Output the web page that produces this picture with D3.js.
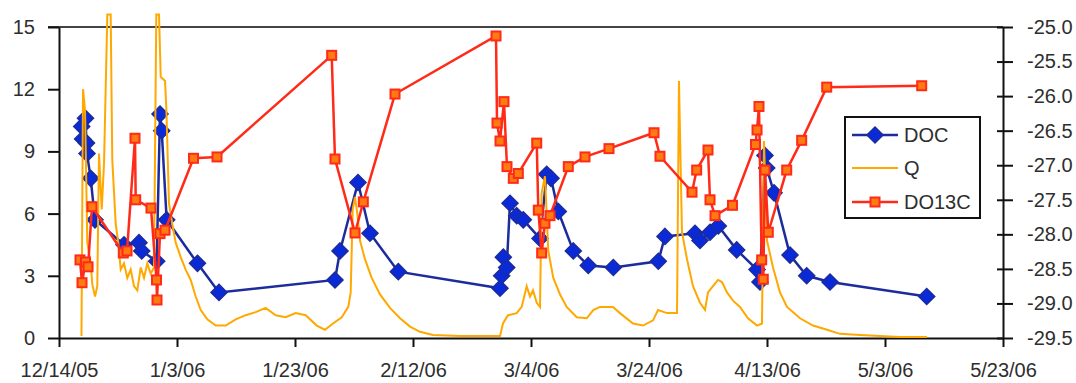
<!DOCTYPE html>
<html>
<head>
<meta charset="utf-8">
<script src="https://cdn.jsdelivr.net/npm/d3@7"></script>
<style>
  body { margin: 0; background: #fff; }
  svg text { font-family: "Liberation Sans", Arial, sans-serif; }
</style>
</head>
<body>
<div id="chart"></div>
<script>
// days elapsed since 12/14/05 00:00
var docDay = [3.85, 4.0, 4.49, 4.66, 4.75, 5.37, 6.10, 11.02, 13.56, 14.02, 16.56, 17.12, 17.41, 18.25, 23.47, 27.12,
  46.78, 47.63, 50.68, 52.71, 57.51, 74.75, 75.03, 75.31, 75.88, 76.44, 77.58, 78.69, 81.53, 82.66, 83.39, 84.63,
  87.17, 89.71, 93.95, 101.58, 102.71, 107.8, 108.64, 110.34, 111.75, 114.86, 118.31, 118.81, 119.66, 119.95,
  121.19, 123.9, 126.73, 130.68, 147.07];
var docValue = [10.2, 9.6, 10.6, 9.4, 8.9, 7.7, 5.7, 4.5, 4.6, 4.2, 3.7, 10.8, 10.0, 5.7, 3.6, 2.2,
  2.8, 4.2, 7.5, 5.05, 3.2, 2.4, 3.0, 3.9, 3.4, 6.5, 5.9, 5.7, 4.8, 7.9, 7.7, 6.1,
  4.2, 3.5, 3.4, 3.7, 4.9, 5.05, 4.7, 5.1, 5.4, 4.25, 3.3, 2.7, 8.8, 8.2,
  7.0, 4.0, 3.0, 2.7, 2.0];

var qDay = [3.81, 4.07, 4.41, 4.80, 5.37, 5.64, 6.10, 6.49, 6.78, 7.24,
  7.63, 8.19, 8.76, 9.03, 9.61, 10.05, 10.46, 11.02, 11.58, 12.15,
  12.71, 13.27, 13.85, 14.41, 14.97, 15.54, 16.10, 16.49, 16.95, 17.24,
  17.97, 18.19, 18.64, 19.20, 19.78, 20.63, 21.47, 22.32, 23.17, 24.02,
  25.14, 26.56, 28.25, 29.95, 31.64, 33.34, 35.03, 36.73, 38.42, 40.12,
  41.81, 43.68, 45.08, 46.44, 47.92, 49.03, 49.44, 49.78, 50.17, 50.56,
  51.02, 51.86, 53.0, 54.41, 56.10, 57.80, 59.49, 61.19, 63.39, 67.97,
  74.75, 75.25, 76.10, 77.58, 78.42, 79.27, 79.83, 80.34, 80.97, 81.53,
  81.81, 82.37, 82.93, 83.78, 84.92, 86.05, 87.75, 89.44, 90.56, 91.69,
  93.90, 95.08, 97.29, 98.98, 100.68, 101.53, 103.05, 104.75, 105.08, 105.59,
  106.44, 107.46, 108.64, 109.49, 110.0, 110.85, 111.69, 112.37, 113.22, 114.24,
  115.42, 116.78, 118.31, 119.15, 119.49, 120.0, 121.02, 122.20, 123.39, 125.59,
  127.80, 130.17, 132.37, 135.76, 142.54, 147.12];
var qValue = [0.1, 12.0, 11.0, 4.6, 3.6, 2.6, 2.0, 2.5, 8.9, 6.2,
  8.4, 15.6, 15.6, 8.6, 5.5, 4.6, 3.3, 3.6, 2.9, 3.3,
  2.5, 2.3, 3.4, 2.9, 3.6, 3.1, 3.4, 15.6, 15.6, 12.6,
  12.4, 11.1, 6.5, 5.5, 4.6, 3.9, 3.3, 2.8, 2.0, 1.35,
  0.9, 0.6, 0.6, 0.9, 1.1, 1.25, 1.45, 1.1, 1.0, 1.2,
  1.1, 0.6, 0.4, 0.7, 1.0, 1.5, 2.2, 6.2, 6.8, 6.0,
  4.7, 3.8, 2.9, 2.1, 1.45, 0.95, 0.55, 0.3, 0.15, 0.1,
  0.1, 0.7, 1.1, 1.2, 1.5, 2.5, 2.0, 2.3, 1.7, 1.5,
  7.0, 7.8, 4.2, 2.9, 2.1, 1.5, 1.0, 0.95, 1.35, 1.5,
  1.5, 1.2, 0.7, 0.6, 0.85, 1.35, 1.2, 1.2, 12.4, 5.1,
  3.8, 2.5, 1.7, 1.35, 2.2, 2.5, 2.8, 2.7, 2.2, 1.8,
  1.5, 0.95, 0.6, 0.7, 9.5, 4.7, 3.4, 2.2, 1.5, 0.95,
  0.6, 0.4, 0.2, 0.15, 0.05, 0.05];

var d13Day = [3.56, 3.90, 4.49, 4.92, 5.59, 10.90, 11.53, 12.88, 13.0, 15.59, 16.53, 16.61, 17.12, 17.97, 22.80, 26.78,
  46.22, 46.78, 50.17, 51.58, 56.95, 74.07, 74.24, 74.75, 75.42, 75.93, 77.0, 77.85, 80.97, 81.24, 81.81, 82.37,
  83.22, 86.32, 89.15, 93.22, 100.85, 101.86, 107.29, 108.08, 110.0, 110.34, 111.19, 114.15, 118.05, 118.31,
  118.64, 119.10, 119.37, 119.66, 120.22, 123.34, 125.88, 130.12, 146.22];
var d13Value = [-28.37, -28.70, -28.40, -28.47, -27.60, -28.27, -28.24, -26.61, -27.50, -27.62, -28.66, -28.95, -27.99, -27.94, -26.90, -26.88,
  -25.41, -26.91, -27.98, -27.53, -25.97, -25.13, -26.39, -26.65, -26.08, -27.02, -27.19, -27.12, -26.68, -27.65, -28.27, -27.84,
  -27.73, -27.02, -26.88, -26.76, -26.53, -26.87, -27.39, -27.07, -26.78, -27.50, -27.73, -27.58, -26.70, -26.49,
  -26.15, -28.37, -28.65, -27.07, -27.97, -27.07, -26.64, -25.87, -25.85];

var leftTicks = [0, 3, 6, 9, 12, 15];
var rightTicks = [-29.5, -29.0, -28.5, -28.0, -27.5, -27.0, -26.5, -26.0, -25.5, -25.0];
var dateTickLabels = ["12/14/05", "1/3/06", "1/23/06", "2/12/06", "3/4/06", "3/24/06", "4/13/06", "5/3/06", "5/23/06"];
var seriesNames = ["DOC", "Q", "DO13C"];

var W = 1076, H = 383;
var margin = {left: 59, right: 73, top: 27, bottom: 45};

var parseTick = d3.timeParse("%m/%d/%y");
var fmtTick = d3.timeFormat("%-m/%-d/%y");
var tickDates = dateTickLabels.map(parseTick);
var start = tickDates[0];
function toDate(d) { return d3.timeMinute.offset(start, Math.round(d * 1440)); }

var svg = d3.select("#chart").append("svg")
  .attr("width", W)
  .attr("height", H);
svg.append("rect").attr("width", W).attr("height", H).attr("fill", "#fff");

var x = d3.scaleTime()
  .domain([start, tickDates[tickDates.length - 1]])
  .range([margin.left, W - margin.right]);
var yL = d3.scaleLinear().domain([0, 15]).range([H - margin.bottom, margin.top]);
var yR = d3.scaleLinear().domain([-29.5, -25]).range([H - margin.bottom, margin.top]);

var textColor = "#2e2e2e";

// top border of plot area
svg.append("line")
  .attr("x1", 48).attr("x2", x.range()[1])
  .attr("y1", margin.top).attr("y2", margin.top)
  .attr("stroke", "#444").attr("stroke-width", 2);

// axes
var gL = svg.append("g")
  .attr("transform", "translate(" + margin.left + ",0)")
  .call(d3.axisLeft(yL).tickValues(leftTicks).tickSize(11).tickSizeOuter(0).tickPadding(13));
var gR = svg.append("g")
  .attr("transform", "translate(" + x.range()[1] + ",0)")
  .call(d3.axisRight(yR).tickValues(rightTicks).tickSize(10).tickSizeOuter(0).tickPadding(14)
    .tickFormat(function(d) { return d.toFixed(1); }));
gR.selectAll(".tick line").attr("x1", -6);
var gB = svg.append("g")
  .attr("transform", "translate(0," + (H - margin.bottom) + ")")
  .call(d3.axisBottom(x).tickValues(tickDates).tickSize(9).tickSizeOuter(0).tickPadding(16).tickFormat(fmtTick));

[gL, gR, gB].forEach(function(g) {
  g.select(".domain").attr("stroke", "#111").attr("stroke-width", 2);
  g.selectAll(".tick line").attr("stroke", "#111").attr("stroke-width", 2);
  g.selectAll("text").attr("fill", textColor).style("font-size", "20px");
});

// series
var docData = docDay.map(function(d, i) { return {t: toDate(d), v: docValue[i]}; });
var qData = qDay.map(function(d, i) { return {t: toDate(d), v: qValue[i]}; });
var d13Data = d13Day.map(function(d, i) { return {t: toDate(d), v: d13Value[i]}; });

var docColor = "#1c2c9c", docFill = "#0a2ad8";
var qColor = "#ffa800";
var d13Color = "#ff2a18", d13Fill = "#ff7a10";

var diamond = "M0,-8L8,0L0,8L-8,0Z";

var lineL = d3.line().x(function(d) { return x(d.t); }).y(function(d) { return yL(d.v); });
var lineR = d3.line().x(function(d) { return x(d.t); }).y(function(d) { return yR(d.v); });

svg.append("path").datum(docData)
  .attr("d", lineL).attr("fill", "none")
  .attr("stroke", docColor).attr("stroke-width", 2.5);
svg.selectAll(".doc").data(docData).enter().append("path")
  .attr("class", "doc")
  .attr("d", diamond)
  .attr("transform", function(d) { return "translate(" + x(d.t) + "," + yL(d.v) + ")"; })
  .attr("fill", docFill).attr("stroke", docColor).attr("stroke-width", 1.5);

svg.append("path").datum(qData)
  .attr("d", lineL).attr("fill", "none")
  .attr("stroke", qColor).attr("stroke-width", 2);

svg.append("path").datum(d13Data)
  .attr("d", lineR).attr("fill", "none")
  .attr("stroke", d13Color).attr("stroke-width", 2.5);
svg.selectAll(".d13").data(d13Data).enter().append("rect")
  .attr("class", "d13")
  .attr("x", function(d) { return x(d.t) - 4.5; })
  .attr("y", function(d) { return yR(d.v) - 4.5; })
  .attr("width", 9).attr("height", 9)
  .attr("fill", d13Fill).attr("stroke", d13Color).attr("stroke-width", 2);

// legend
var lg = svg.append("g").attr("transform", "translate(845,117)");
lg.append("rect").attr("width", 135).attr("height", 101)
  .attr("fill", "#fff").attr("stroke", "#111").attr("stroke-width", 2);
var rows = [18, 51, 85];
lg.append("line").attr("x1", 7).attr("x2", 53).attr("y1", rows[0]).attr("y2", rows[0])
  .attr("stroke", docColor).attr("stroke-width", 2.5);
lg.append("path").attr("d", diamond).attr("transform", "translate(30," + rows[0] + ")")
  .attr("fill", docFill).attr("stroke", docColor).attr("stroke-width", 1.5);
lg.append("line").attr("x1", 7).attr("x2", 53).attr("y1", rows[1]).attr("y2", rows[1])
  .attr("stroke", qColor).attr("stroke-width", 2);
lg.append("line").attr("x1", 7).attr("x2", 53).attr("y1", rows[2]).attr("y2", rows[2])
  .attr("stroke", d13Color).attr("stroke-width", 2.5);
lg.append("rect").attr("x", 25.5).attr("y", rows[2] - 4.5).attr("width", 9).attr("height", 9)
  .attr("fill", d13Fill).attr("stroke", d13Color).attr("stroke-width", 2);
seriesNames.forEach(function(name, i) {
  lg.append("text").attr("x", 59).attr("y", rows[i] + 7)
    .attr("fill", textColor).style("font-size", "20px").text(name);
});
</script>
</body>
</html>
